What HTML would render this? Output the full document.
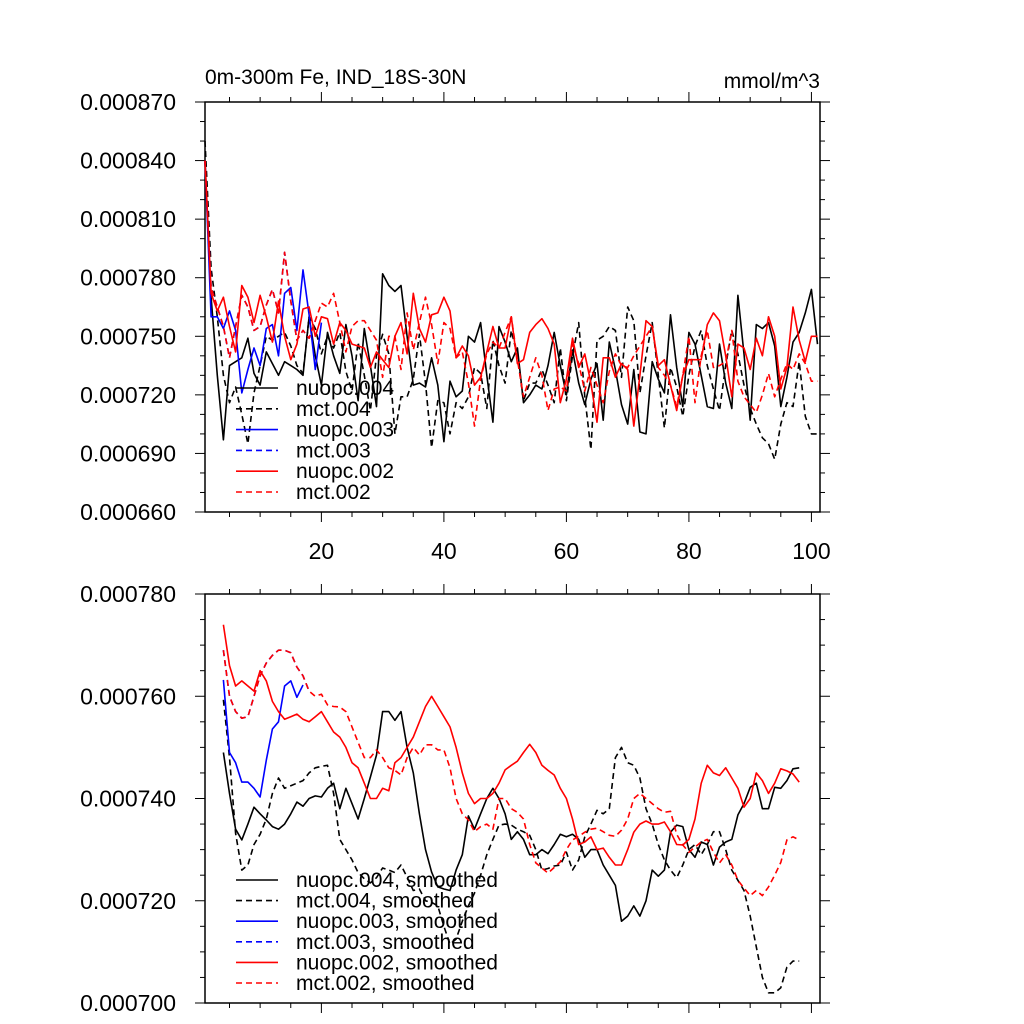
<!DOCTYPE html>
<html><head><meta charset="utf-8"><style>
html,body{margin:0;padding:0;background:#fff;}
svg{display:block;font-family:"Liberation Sans",Arial,sans-serif;}
</style></head><body>
<svg id="chart" width="1024" height="1024" viewBox="0 0 1024 1024" xmlns="http://www.w3.org/2000/svg"></svg>
<script>
// values in units of 1e-6 mmol/m^3
const xTickLabels = [20, 40, 60, 80, 100];
const topYTicks = [660, 690, 720, 750, 780, 810, 840, 870];
const botYTicks = [700, 720, 740, 760, 780];
const topStart = 1;
const botStart = 4;
const seriesNames = ["nuopc.004", "mct.004", "nuopc.003", "mct.003", "nuopc.002", "mct.002"];

const nuopc004 = [840,770,730,697,735,737,739,749,731,725,742,736,730,737,735,733,730,760,740,725,752,740,731,756,740,717,754,735,714,782,776,773,776,750,725,726,724,739,725,696,727,719,722,750,747,757,730,706,755,747,737,744,716,720,725,723,735,752,735,720,743,726,715,728,736,707,747,733,715,705,733,701,700,737,728,721,761,734,714,752,746,730,714,713,746,726,713,771,741,707,756,754,757,745,714,729,747,752,762,774,746];
const mct004 = [850,785,760,730,716,724,710,695,721,735,750,748,750,752,745,735,731,760,754,741,750,744,752,732,722,747,730,712,740,751,741,700,719,719,728,751,726,693,717,716,700,716,713,719,734,731,713,748,735,726,753,740,717,726,726,733,725,716,744,717,740,757,719,692,748,750,755,753,729,765,758,721,740,757,730,703,734,724,709,730,745,753,735,723,712,735,753,741,725,713,705,698,695,687,705,716,714,737,709,700,700];
const nuopc003 = [840,760,760,754,763,753,721,733,744,735,754,756,740,772,775,753,784,761,733,757];
const mct003 = [840,775,765,755,739,755,771,765,753,755,766,774,762,793,768,748,753,749,758];
const nuopc002 = [840,772,763,770,755,742,776,770,757,771,760,747,768,750,738,746,764,765,750,760,759,746,757,753,746,745,744,734,742,738,734,750,757,741,772,754,747,761,762,770,763,739,745,740,725,729,742,755,744,744,760,736,738,752,756,759,754,746,716,728,749,734,741,726,706,739,739,729,736,733,704,730,758,755,735,738,725,712,730,738,738,738,756,762,758,740,719,746,744,733,749,740,760,750,723,734,765,748,737,750,750];
const mct002 = [840,775,765,755,739,755,771,765,753,755,766,774,762,793,768,748,753,749,758,767,765,772,757,742,755,758,758,753,748,729,750,750,733,762,743,757,770,756,736,757,754,739,742,726,704,728,741,747,744,752,760,738,719,729,739,730,712,723,724,722,746,736,722,734,725,716,732,741,735,734,740,745,750,755,734,730,725,714,730,750,716,740,753,734,735,737,753,727,719,715,711,720,731,719,728,736,733,741,736,727,727];

const nuopc004s = [749,741,734,731.9,735,738.3,737,735.8,734.5,734,735,737,739.3,738.5,740,740.5,740.3,742,743,738,742,739,736,740,744.2,748.5,757,757,755.3,757,750,745,737,730,725.6,722.7,722.3,722,726,729,736.6,734,737,740,742,740,737,732,733.5,732,729,729,730,729.2,731,733,732.5,733,732,728.5,730,730,727,725,723,716,717,719,717,720,726,724.8,726,733.4,734.8,734.5,730,728.5,731.5,731,727,730.5,731.5,732,736.8,739,742.2,743,738,738,742.2,742,743.5,745.8,746];
const mct004s = [759.3,748,733.2,726,727,731,733,736,741,744,742,742.5,743,743.5,745,746,746.3,746.5,741,732,730,728,725.5,724.3,723.5,724.5,726.4,726,725.5,727,724.6,722,722.3,720,719.7,719,715,711.5,712.5,716,719,721.5,725,729,732,734.8,735,734.8,734,733.5,732.8,730,726,726.3,726.8,727,729.5,726,728,732.5,735,737.7,737,738,748,750,747,746.5,744,738,735,731,728,726,724.5,727,730,731,729,731,733.5,733.5,730,726,724,722,717,711,705,702,702,703,707,708.2,708.2];
const nuopc003s = [763.2,749,747,743.2,743.2,742,740.3,747.5,753.6,755,762,763,759.8,762.2];
const mct003s = [769,760,757,755.7,756,760,764,766.5,768,769,769,768.5,765.7,764,761];
const nuopc002s = [774,766,762,763,762,761,765,763,759,757,755.5,756,756.5,755.5,755,756,757,755,753,752,750,747,746,743,740,740,742,741.5,747,748,750,752,755,758,760,758,756,754,750,745,741,739,740,740,741,743,745.6,746.5,747.3,749,750.6,749,746.5,745.5,744.6,742,740,736,731,731.5,732.5,730,730.3,728.5,727,727,730,733.4,735,735.6,735,735,735.4,733.5,731,730.9,732,736,743,746.5,745,744.5,746,744,742,738.3,740,745,743.5,741,743,745.8,745.4,744.8,743.2];
const mct002s = [769,760,757,755.7,756,760,764,766.5,768,769,769,768.5,765.7,764,761,760,760.4,758.3,758,757.9,757,754,751,748,748,749.5,748,746,745.5,744.6,748,750,748.5,750.5,750.5,749.5,749.5,746,740,737,735.8,733.5,734.5,735,734,740,740,738,737.3,736,731,727.4,726.4,725.4,726.5,727.6,730,731.9,732.6,733.4,734,734.2,733.5,732.8,732.6,733.8,736,740,741,740,739,738,737.3,737.5,733,730.9,729.5,730.5,731.5,732,729.5,727.4,729,727,724,722.5,721,722,721,722.7,725,727.5,731.9,732.5,731.9];

const svgNS = "http://www.w3.org/2000/svg";
const svg = document.getElementById("chart");
function mk(tag, attrs, parent) {
  const e = document.createElementNS(svgNS, tag);
  for (const k in attrs) e.setAttribute(k, attrs[k]);
  (parent || svg).appendChild(e);
  return e;
}
const X0 = 205, X1 = 820, XMIN = 1, XMAX = 101.4;
function xScale(x) { return X0 + (x - XMIN) / (XMAX - XMIN) * (X1 - X0); }

function panel(name, top, bottom, ymin, ymax, yTicks, minorStep, showX) {
  const g = mk("g", {});
  
  
  const ys = v => bottom - (v - ymin) / (ymax - ymin) * (bottom - top);
  const frame = mk("rect", {x: X0, y: top, width: X1 - X0, height: bottom - top, fill: "none", stroke: "#000", "stroke-width": 1.5}, g);
  
  
  for (let v = ymin; v <= ymax + 1e-9; v += minorStep) {
    const major = yTicks.some(t => Math.abs(t - v) < 1e-6);
    const L = major ? 10 : 5;
    const y = ys(v);
    mk("line", {x1: X0 - L, x2: X0, y1: y, y2: y, stroke: "#000", "stroke-width": 1}, g);
    mk("line", {x1: X1, x2: X1 + L, y1: y, y2: y, stroke: "#000", "stroke-width": 1}, g);
  }
  yTicks.forEach(t => {
    const tx = mk("text", {x: 176, y: ys(t) + 8, "text-anchor": "end", "font-size": 23}, g);
    tx.textContent = (t * 1e-6).toFixed(6);
    
    
  });
  for (let x = 5; x <= 100; x += 5) {
    const major = x % 20 === 0;
    const L = major ? 10 : 5;
    const px = xScale(x);
    mk("line", {x1: px, x2: px, y1: bottom, y2: bottom + L, stroke: "#000", "stroke-width": 1}, g);
    mk("line", {x1: px, x2: px, y1: top - L, y2: top, stroke: "#000", "stroke-width": 1}, g);
  }
  if (showX) {
    xTickLabels.forEach(t => {
      const tx = mk("text", {x: xScale(t), y: bottom + 47, "text-anchor": "middle", "font-size": 23}, g);
      tx.textContent = t;
      
      
    });
  }
  return {g, ys};
}

function drawSeries(p, data, start, color, dashed, name) {
  const pts = data.map((v, i) => xScale(start + i).toFixed(1) + "," + p.ys(v).toFixed(1)).join(" ");
  const pl = mk("polyline", {points: pts, fill: "none", stroke: color, "stroke-width": 1.6, "stroke-linejoin": "round"}, p.g);
  if (dashed) pl.setAttribute("stroke-dasharray", "6,4");
  
  
}

function legend(p, startY, step, suffix, prefix) {
  const styles = [["#000", false], ["#000", true], ["#0000ff", false], ["#0000ff", true], ["#ff0000", false], ["#ff0000", true]];
  seriesNames.forEach((n, i) => {
    const y = startY + i * step;
    const ln = mk("line", {x1: 236, x2: 278, y1: y, y2: y, stroke: styles[i][0], "stroke-width": 1.6}, p.g);
    if (styles[i][1]) ln.setAttribute("stroke-dasharray", "6,4");
    
    
    const t = mk("text", {x: 296, y: y + 7, "font-size": 21}, p.g);
    t.textContent = n + suffix;
    
    
  });
}

const topP = panel("top-panel", 102, 512, 660, 870, topYTicks, 10, true);
drawSeries(topP, nuopc004, topStart, "#000", false, "line-nuopc-004");
drawSeries(topP, mct004, topStart, "#000", true, "line-mct-004");
drawSeries(topP, nuopc003, topStart, "#0000ff", false, "line-nuopc-003");
drawSeries(topP, mct003, topStart, "#0000ff", true, "line-mct-003");
drawSeries(topP, nuopc002, topStart, "#ff0000", false, "line-nuopc-002");
drawSeries(topP, mct002, topStart, "#ff0000", true, "line-mct-002");
legend(topP, 388, 20.8, "", "top");

const botP = panel("bottom-panel", 594, 1003, 700, 780, botYTicks, 5, false);
drawSeries(botP, nuopc004s, botStart, "#000", false, "line-nuopc-004-smoothed");
drawSeries(botP, mct004s, botStart, "#000", true, "line-mct-004-smoothed");
drawSeries(botP, nuopc003s, botStart, "#0000ff", false, "line-nuopc-003-smoothed");
drawSeries(botP, mct003s, botStart, "#0000ff", true, "line-mct-003-smoothed");
drawSeries(botP, nuopc002s, botStart, "#ff0000", false, "line-nuopc-002-smoothed");
drawSeries(botP, mct002s, botStart, "#ff0000", true, "line-mct-002-smoothed");
legend(botP, 880, 20.6, ", smoothed", "bottom");

const title = mk("text", {x: 205, y: 84, "font-size": 21});
title.textContent = "0m-300m Fe, IND_18S-30N";


const units = mk("text", {x: 820, y: 88, "font-size": 21, "text-anchor": "end"});
units.textContent = "mmol/m^3";


</script>
</body></html>
